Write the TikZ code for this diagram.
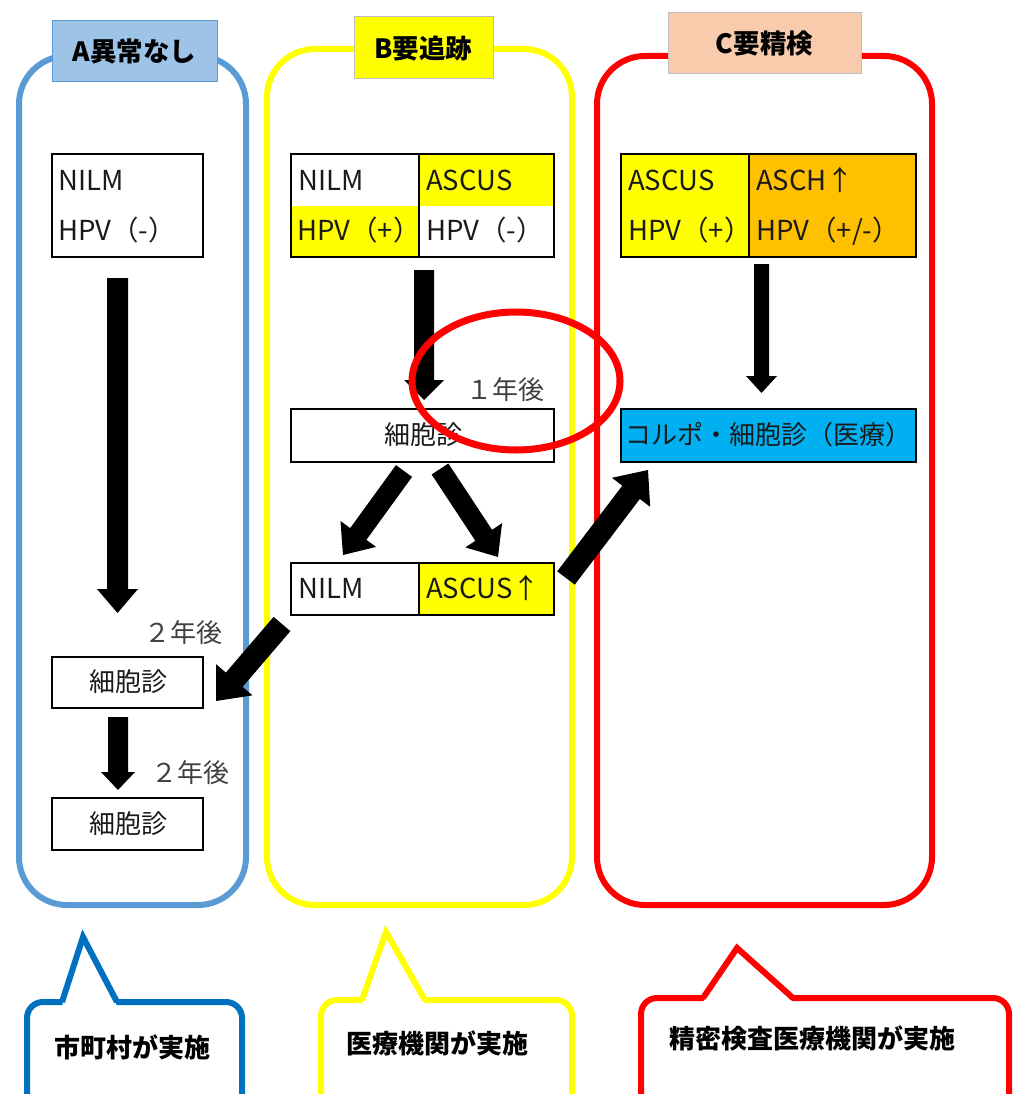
\documentclass[tikz,border=0pt]{standalone}
\usepackage{fontspec}
\setmainfont{Noto Sans CJK JP}
\usetikzlibrary{calc}
\definecolor{pA}{HTML}{5B9BD5}
\definecolor{hA}{HTML}{9DC3E6}
\definecolor{pC}{HTML}{FF0000}
\definecolor{hC}{HTML}{F8CBAD}
\definecolor{yel}{HTML}{FFFF00}
\definecolor{org}{HTML}{FFC000}
\definecolor{cyanbox}{HTML}{00B0F0}
\definecolor{cbA}{HTML}{0070C0}
\definecolor{hgray}{HTML}{BFBFBF}
\definecolor{txt}{HTML}{1A1A1A}
\definecolor{yrs}{HTML}{404040}
\newcommand\blockarrow[6]{%
  \coordinate (#1-b) at ($(#3)!#6!(#2)$);
  \fill[black] ($(#2)!#4!90:(#3)$) -- ($(#1-b)!#4!90:(#3)$) -- ($(#1-b)!#5!90:(#3)$) -- (#3) -- ($(#1-b)!#5!-90:(#3)$) -- ($(#1-b)!#4!-90:(#3)$) -- ($(#2)!#4!-90:(#3)$) -- cycle;}
\tikzset{
  panel/.style={line width=6pt, rounded corners=48pt},
  header/.style={line width=1pt},
  headtxt/.style={inner sep=0pt, text=black, font=\bfseries\fontsize{26.5}{30}\selectfont},
  cell/.style={draw=black, line width=2.5pt},
  lbl/.style={inner sep=0pt, text=txt, font=\fontsize{26}{30}\selectfont},
  latlbl/.style={inner sep=0pt, text=txt, font=\fontsize{27.5}{30}\selectfont},
  yrlbl/.style={inner sep=0pt, text=yrs, font=\fontsize{26}{30}\selectfont},
  calltxt/.style={inner sep=0pt, text=black, font=\bfseries\fontsize{26}{30}\selectfont},
  callout/.style={line width=6pt, line join=miter},
}
\begin{document}
\begin{tikzpicture}[x=1pt,y=-1pt]
\useasboundingbox (0,0) rectangle (1016,1094);
\fill[white] (0,0) rectangle (1016,1094);
\clip (0,0) rectangle (1016,1094);

% panels
\draw[panel, draw=pA] (19,56) rectangle (246,905);
\draw[panel, draw=yel] (267,49) rectangle (572,905);
\draw[panel, draw=pC] (597,56) rectangle (932,905);

% headers
\filldraw[header, fill=hA, draw=pA] (52,21) rectangle (217,82);
\node[headtxt] (hdA) at (134.5,51) {A異常なし};
\filldraw[header, fill=yel, draw=hgray] (354,17) rectangle (493,79);
\node[headtxt] (hdB) at (423.5,48) {B要追跡};
\filldraw[header, fill=hC, draw=hgray] (668,13) rectangle (861,74);
\node[headtxt] (hdC) at (764.5,43.5) {C要精検};

% A top box
\draw[cell] (52,154) rectangle (203,257);
\node[latlbl, anchor=base west] (a1) at (58,190) {NILM};
\node[latlbl, anchor=base west] (a2) at (58,240) {HPV（-）};

% B top box
\fill[yel] (291,206) rectangle (419,257);
\fill[yel] (419,154) rectangle (554,206);
\draw[cell] (291,154) rectangle (554,257);
\draw[cell] (419,154) -- (419,257);
\node[latlbl, anchor=base west] (b1) at (298,190) {NILM};
\node[latlbl, anchor=base west] (b2) at (297,240) {HPV（+）};
\node[latlbl, anchor=base west] (b3) at (426,190) {ASCUS};
\node[latlbl, anchor=base west] (b4) at (426,240) {HPV（-）};

% C top box
\fill[yel] (621,154) rectangle (749,257);
\fill[org] (749,154) rectangle (916,257);
\draw[cell] (621,154) rectangle (916,257);
\draw[cell] (749,154) -- (749,257);
\node[latlbl, anchor=base west] (c1) at (628,190) {ASCUS};
\node[latlbl, anchor=base west] (c2) at (628,240) {HPV（+）};
\node[latlbl, anchor=base west] (c3) at (756,190) {ASCH↑};
\node[latlbl, anchor=base west] (c4) at (756,240) {HPV（+/-）};

% B cytology
\draw[cell] (291,409) rectangle (554,462);
\node[lbl] (bcy) at (423,435) {細胞診};
\node[yrlbl] (y1) at (505,390) {１年後};

% B result box
\fill[yel] (419,563) rectangle (554,615);
\draw[cell] (291,563) rectangle (554,615);
\draw[cell] (419,563) -- (419,615);
\node[latlbl, anchor=base west] (b5) at (298,598) {NILM};
\node[latlbl, anchor=base west] (b6) at (426,598) {ASCUS↑};

% C colpo box
\filldraw[cell, fill=cyanbox] (621,409) rectangle (916,462);
\node[lbl, anchor=west] (colpo) at (625,435) {コルポ・細胞診（医療）};

% A cytology boxes
\draw[cell] (52,657) rectangle (203,708);
\node[lbl] (acy1) at (128,682) {細胞診};
\node[yrlbl] (y2) at (183,633) {２年後};
\draw[cell] (52,798) rectangle (203,850);
\node[lbl] (acy2) at (128,824) {細胞診};
\node[yrlbl] (y3) at (190,773) {２年後};

% arrow end coordinates
\coordinate (aAs) at (117.5,278); \coordinate (aAe) at (117.5,613);
\coordinate (aBs) at (424,270);   \coordinate (aBe) at (424,400);
\coordinate (aCs) at (761.5,264); \coordinate (aCe) at (761.5,393);
\coordinate (aDs) at (118,717);   \coordinate (aDe) at (118,790);
\coordinate (aLs) at (404,471);   \coordinate (aLe) at (343,555);
\coordinate (aRs) at (440,469);   \coordinate (aRe) at (498,557);
\coordinate (aXs) at (566,578);   \coordinate (aXe) at (648,470);
\coordinate (aYs) at (282,624);   \coordinate (aYe) at (216,701);

\blockarrow{arA}{aAs}{aAe}{10.5pt}{20.5pt}{24pt}
\blockarrow{arB}{aBs}{aBe}{10pt}{20pt}{20pt}
\blockarrow{arC}{aCs}{aCe}{7.5pt}{15.5pt}{17pt}
\blockarrow{arD}{aDs}{aDe}{10pt}{17pt}{18pt}
\blockarrow{arL}{aLs}{aLe}{10pt}{22pt}{26pt}
\blockarrow{arR}{aRs}{aRe}{10pt}{22pt}{26pt}
\blockarrow{arX}{aXs}{aXe}{11pt}{24pt}{28pt}
\blockarrow{arY}{aYs}{aYe}{11pt}{24pt}{28pt}

% red ellipse
\draw[pC, line width=7pt] (516,381) ellipse [x radius=104, y radius=69];

% callouts
\draw[callout, draw=cbA, rounded corners=16pt] (27,1002) rectangle (242,1130);
\fill[white] (62,1006) -- (83,937) -- (117,1006) -- cycle;
\draw[callout, draw=cbA] (62,1002) -- (83,937) -- (117,1002);
\node[calltxt] (t1) at (132,1047) {市町村が実施};

\draw[callout, draw=yel, rounded corners=16pt] (321,1000) rectangle (572,1130);
\fill[white] (362,1004) -- (386,932) -- (425,1004) -- cycle;
\draw[callout, draw=yel] (362,1000) -- (386,932) -- (425,1000);
\node[calltxt] (t2) at (437,1043) {医療機関が実施};

\draw[callout, draw=pC, rounded corners=16pt] (641,998) rectangle (1009,1130);
\fill[white] (703,1002) -- (737,948) -- (793,1002) -- cycle;
\draw[callout, draw=pC] (703,998) -- (737,948) -- (793,998);
\node[calltxt] (t3) at (812,1038) {精密検査医療機関が実施};
\end{tikzpicture}
\end{document}
